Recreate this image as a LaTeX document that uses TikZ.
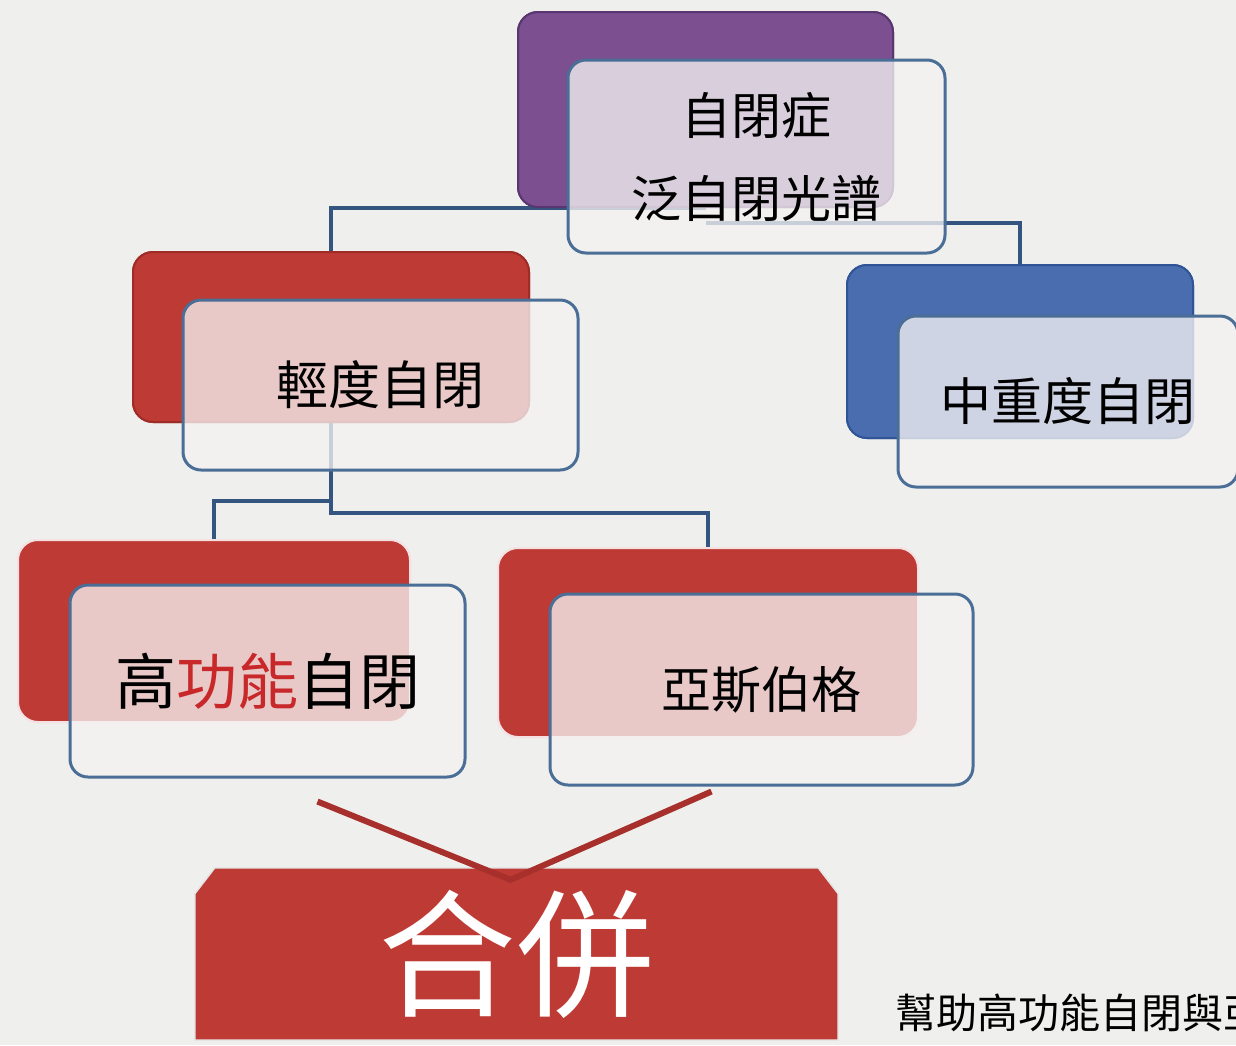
\documentclass[tikz,border=0pt]{standalone}
\usepackage{fontspec}
\setmainfont{Noto Sans CJK TC}

\definecolor{bgpaper}{HTML}{EFEFED}
\definecolor{spectrum}{HTML}{7B4F90}
\definecolor{spectrumedge}{HTML}{5A3670}
\definecolor{mildred}{HTML}{BE3A34}
\definecolor{mildedge}{HTML}{A02C27}
\definecolor{severeblue}{HTML}{4A6DB0}
\definecolor{severeedge}{HTML}{2F5597}
\definecolor{frameblue}{HTML}{4A6E96}
\definecolor{linkblue}{HTML}{34557F}
\definecolor{pastel}{HTML}{F4F2F2}
\definecolor{chevron}{HTML}{A8302C}
\definecolor{keyred}{HTML}{C8282A}

\begin{document}
\begin{tikzpicture}[x=1pt,y=-1pt,
    backbox/.style={rectangle, rounded corners=20pt, line width=2pt, inner sep=0pt},
    frontbox/.style={rectangle, rounded corners=18pt, draw=frameblue, line width=3pt,
      fill=pastel, fill opacity=0.78, text opacity=1, inner sep=0pt, align=center},
    link/.style={draw=linkblue, line width=4pt},
    mergestroke/.style={draw=chevron, line width=6pt, line join=miter}]

  \useasboundingbox (0,0) rectangle (1236,1045);
  \clip (0,0) rectangle (1236,1045);
  \fill[bgpaper] (0,0) rectangle (1236,1045);

  % Back boxes
  \node[backbox, fill=spectrum, draw=spectrumedge, minimum width=375pt, minimum height=195pt]
    (topback) at (705.5,109.5) {};
  \node[backbox, fill=mildred, draw=mildedge, minimum width=396pt, minimum height=170pt]
    (mildback) at (331,337) {};
  \node[backbox, fill=severeblue, draw=severeedge, minimum width=346pt, minimum height=173pt]
    (severeback) at (1020,351.5) {};
  \node[backbox, fill=mildred, draw=white!85!mildred, minimum width=392pt, minimum height=182pt]
    (hfaback) at (214,631) {};
  \node[backbox, fill=mildred, draw=white!85!mildred, minimum width=420pt, minimum height=189pt]
    (aspback) at (708,642.5) {};

  % Connectors
  \draw[link] (topback.south) -| (mildback.north);
  \draw[link] ([yshift=-15pt]topback.south) -| (severeback.north);
  \draw[link] (mildback.south) -- ++(0,78) -| (hfaback.north);
  \draw[link] (mildback.south) -- ++(0,90) -| (aspback.north);

  % Back boxes again, over the connectors
  \node[backbox, fill=spectrum, draw=spectrumedge, minimum width=375pt, minimum height=195pt]
    at (topback) {};
  \node[backbox, fill=mildred, draw=mildedge, minimum width=396pt, minimum height=170pt]
    at (mildback) {};
  \node[backbox, fill=severeblue, draw=severeedge, minimum width=346pt, minimum height=173pt]
    at (severeback) {};
  \node[backbox, fill=mildred, draw=white!85!mildred, minimum width=392pt, minimum height=182pt]
    at (hfaback) {};
  \node[backbox, fill=mildred, draw=white!85!mildred, minimum width=420pt, minimum height=189pt]
    at (aspback) {};

  % Front boxes with the labels
  \node[frontbox, minimum width=377pt, minimum height=193pt,
    font=\fontsize{50}{83}\selectfont] (topfront) at (756.5,156.5) {自閉症\\泛自閉光譜};
  \node[frontbox, minimum width=395pt, minimum height=170pt,
    font=\fontsize{52}{60}\selectfont] (mildfront) at (380.5,385) {輕度自閉};
  \node[frontbox, minimum width=340pt, minimum height=171pt,
    font=\fontsize{51}{60}\selectfont] (severefront) at (1068,401.5) {中重度自閉};
  \node[frontbox, minimum width=395pt, minimum height=192pt,
    font=\fontsize{61}{70}\selectfont] (hfafront) at (267.5,681)
    {高\textcolor{keyred}{功能}自閉};
  \node[frontbox, minimum width=423pt, minimum height=191pt,
    font=\fontsize{50}{60}\selectfont] (aspfront) at (761.5,689.5) {亞斯伯格};

  % Merge
  \node[inner sep=0pt, minimum width=643pt, minimum height=172pt] (mergebox) at (516.5,954) {};
  \fill[mildred, draw=white!80!gray, line width=1.5pt]
    (mergebox.south west) -- ([yshift=-26pt]mergebox.north west)
    -- ([xshift=20pt]mergebox.north west) -- ([xshift=-20pt]mergebox.north east)
    -- ([yshift=-26pt]mergebox.north east) -- (mergebox.south east) -- cycle;
  \node[text=white, font=\fontsize{138}{140}\selectfont, inner sep=0pt]
    (mergetext) at (mergebox) {合併};
  \draw[mergestroke] ([xshift=50pt, yshift=-23pt]hfafront.south)
    -- ([xshift=-6pt, yshift=-12pt]mergebox.north)
    -- ([xshift=-50pt, yshift=-5pt]aspfront.south);

  % Footnote
  \node[anchor=west, inner sep=0pt, font=\fontsize{41}{45}\selectfont]
    (footnote) at (895,1013) {幫助高功能自閉與亞};

\end{tikzpicture}
\end{document}
